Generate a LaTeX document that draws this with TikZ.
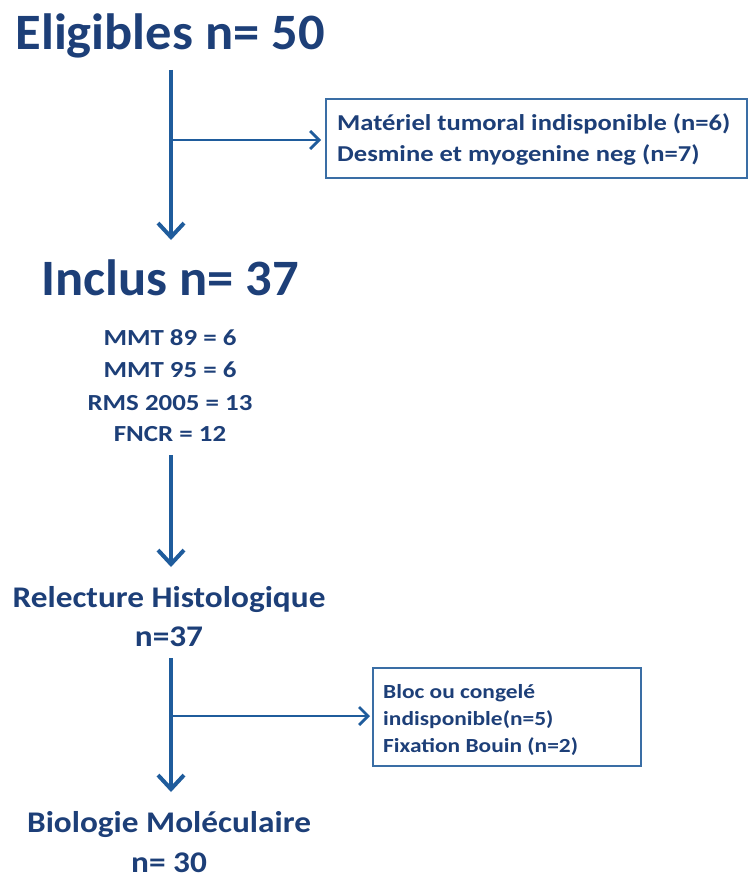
\documentclass[tikz,border=0pt]{standalone}
\usepackage{fontspec}
\setmainfont{Carlito}
\newfontfamily\fbig{Carlito}[FakeStretch=1.03]
\newfontfamily\fmid{Carlito}[FakeStretch=1.11]
\newfontfamily\fsml{Carlito}[FakeStretch=1.17]
\usetikzlibrary{arrows.meta}
\definecolor{txt}{HTML}{1D3F78}
\definecolor{ln}{HTML}{1F5C9C}
\definecolor{bx}{HTML}{3A6EA5}
\tikzset{
  big/.style={text=txt,font=\fbig\bfseries\fontsize{51}{60}\selectfont,inner sep=0pt,anchor=base},
  mid/.style={text=txt,font=\fmid\bfseries\fontsize{30}{34}\selectfont,inner sep=0pt,anchor=base},
  small/.style={text=txt,font=\fsml\bfseries\fontsize{23}{32}\selectfont,inner sep=0pt,anchor=base},
  exbox/.style={draw=bx,line width=1.5pt,anchor=north west},
  extxt/.style={text=txt,inner sep=0pt,anchor=base west},
  vline/.style={draw=ln,line width=4pt,-{Straight Barb[length=14pt,width=26pt,line width=4pt]}},
  hline/.style={draw=ln,line width=2.8pt,-{Straight Barb[length=9pt,width=18pt,line width=2.8pt]}}
}
\begin{document}
\begin{tikzpicture}[x=1pt,y=-1pt]
\useasboundingbox (0,0) rectangle (751,875);
\node[big] (elig) at (170,50) {Eligibles n= 50};
\node[big] (incl) at (170,295) {Inclus n= 37};
\node[small] (l1) at (170,345) {MMT 89 = 6};
\node[small] (l2) at (170,377) {MMT 95 = 6};
\node[small] (l3) at (170,410) {RMS 2005 = 13};
\node[small] (l4) at (170,441) {FNCR = 12};
\node[mid] (rel) at (169,607) {Relecture Histologique};
\node[mid] (rel2) at (169,646) {n=37};
\node[mid] (bio) at (169,832) {Biologie Moléculaire};
\node[mid] (bio2) at (169,872) {n= 30};
\node[exbox,minimum width=421pt,minimum height=79pt] (ex1) at (325,98) {};
\node[extxt,font=\fsml\bfseries\fontsize{22.7}{24}\selectfont] (ex1a) at (337,130) {Matériel tumoral indisponible (n=6)};
\node[extxt,font=\fsml\bfseries\fontsize{22.7}{24}\selectfont] (ex1b) at (337,161) {Desmine et myogenine neg (n=7)};
\node[exbox,minimum width=268pt,minimum height=98pt] (ex2) at (372,667) {};
\node[extxt,font=\fsml\bfseries\fontsize{20}{24}\selectfont] (ex2a) at (383,698) {Bloc ou congelé};
\node[extxt,font=\fsml\bfseries\fontsize{20}{24}\selectfont] (ex2b) at (383,725) {indisponible(n=5)};
\node[extxt,font=\fsml\bfseries\fontsize{20}{24}\selectfont] (ex2c) at (383,752) {Fixation Bouin (n=2)};
\coordinate (a1s) at (171,70);
\coordinate (a1e) at (171,240);
\coordinate (b1) at (171,140);
\draw[vline] (a1s) -- (a1e);
\draw[hline] (b1) -- ([xshift=-4pt]ex1.west |- b1);
\coordinate (a2s) at (171,455);
\coordinate (a2e) at (171,567);
\draw[vline] (a2s) -- (a2e);
\coordinate (a3s) at (171,658);
\coordinate (a3e) at (171,792);
\coordinate (b3) at (171,716);
\draw[vline] (a3s) -- (a3e);
\draw[hline] (b3) -- ([xshift=-2pt]ex2.west |- b3);
\end{tikzpicture}
\end{document}
